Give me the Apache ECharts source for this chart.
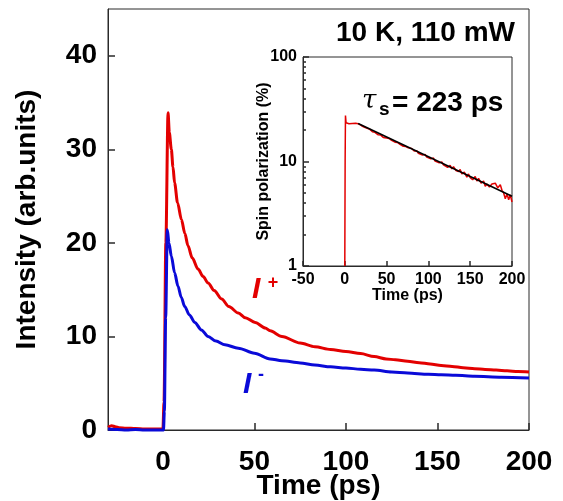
<!DOCTYPE html>
<html><head><meta charset="utf-8">
<script src="https://cdn.jsdelivr.net/npm/echarts@6/dist/echarts.min.js"></script>
<style>html,body{margin:0;padding:0;background:#fff}#c{width:563px;height:501px}</style>
</head><body><div id="c"></div>
<script>
// ---- Main panel data: intensity vs time ----
const plusTime = [-30,-28,-26,-24,-20,-15,-10,-5,-1,0,0.6,1.6,2.8,3.5,4.6,5.5,6.4,8,10.1,12,13.7,16,19.2,22,24.7,28,32.1,36,41.2,45,50.4,55.9,58.6,65,75,83,91.6,100,108,115.4,122,127,133.7,140,146,152,158,164,170.3,176,182,188,194,200];
const plusVal  = [0.3,0.45,0.35,0.25,0.2,0.15,0.1,0.1,0.1,0.1,3,20,33.9,31.8,30.0,28.1,26.4,24.3,22.5,21.0,19.7,18.4,17.2,16.4,15.7,14.9,14.0,13.2,12.5,12.0,11.5,10.9,10.6,10.0,9.3,8.9,8.6,8.4,8.17,7.85,7.6,7.5,7.35,7.2,7.05,6.9,6.8,6.65,6.56,6.48,6.4,6.32,6.25,6.2];
const minusTime = [-30,-25,-20,-15,-10,-5,-1,0.3,0.8,1.5,2.4,3.3,4.6,6.4,8.2,10,11.9,14.5,17.4,21,24.7,29,33.9,41.2,50,58.6,65,75,83,91.6,100,108,115.4,125,133.7,145,152,160,170.3,185,200];
const minusVal  = [0.1,0.05,0.0,0.05,0.0,0.0,0.0,0.0,2,12,21.4,20.0,18.6,16.8,15.4,14.2,13.2,12.3,11.5,10.7,10.0,9.5,9.1,8.75,8.2,7.6,7.4,7.17,6.95,6.75,6.62,6.5,6.4,6.2,6.1,5.95,5.9,5.85,5.75,5.65,5.57];
const mainXTicks = [0,50,100,150,200];
const mainYTicks = [0,10,20,30,40];

// ---- Inset data: spin polarization (%) vs time ----
const polTime = [0,0.4,0.8,1.5,3,5,7,9,11,13,16,18,20,23,26,28,30,33,36,38,40,43,46,48,50,53,56,58,60,63,66,68,70,73,76,78,80,83,86,88,90,93,96,98,100,103,106,108,110,113,116,118,120,123,126,128,130,133,136,138,140,143,146,148,150,153,156,158,160,163,166,168,170,173,176,178,180,183,186,188,190,192,194,196,198,200];
const polVal  = [1,10,27.5,23.5,22.6,23.0,22.7,23.1,22.8,23.2,23.0,22.6,22.0,21.4,20.9,20.1,20.3,19.3,19.0,18.6,18.0,17.9,17.0,17.4,16.8,16.6,15.9,16.1,15.3,15.2,14.6,14.9,14.0,13.9,13.5,13.2,13.3,12.6,12.7,12.0,12.3,11.5,11.7,11.0,11.3,10.6,10.8,10.1,10.4,9.7,9.9,9.3,9.6,8.8,9.2,8.5,8.9,8.2,8.0,8.4,7.6,7.9,7.1,7.6,7.0,6.7,7.2,6.5,6.9,6.2,6.5,5.8,6.1,5.7,6.1,5.9,6.2,5.6,6.0,5.3,5.0,4.4,4.9,4.3,4.8,4.1];
const fitTime = [16,200];
const fitVal  = [23.1,4.65];
const insetYMajor = [1,10,100];
const insetYMinor = [2,3,4,5,6,7,8,9,20,30,40,50,60,70,80,90];

const zip = (a,b) => a.map((t,i) => [t,b[i]]);
const FONT = '"Liberation Sans", Arial, sans-serif';
const RED = '#e30000', BLUE = '#0a0ad8', AX = '#2a2a2a';

const chart = echarts.init(document.getElementById('c'));
const lab = (size, extra) => Object.assign({fontFamily:FONT, fontWeight:'bold', fontSize:size, color:'#000'}, extra||{});
const axLine = {show:true, onZero:false, lineStyle:{color:AX, width:1}};
const tick = (len, extra) => Object.assign({show:true, inside:true, length:len, lineStyle:{color:AX, width:1.5}}, extra||{});

chart.setOption({
  animation:false,
  grid:[
    {left:108, top:9, width:421, height:421, show:true, borderColor:AX, borderWidth:1, outerBoundsMode:'none'},
    {left:303, top:57, width:209, height:209, show:true, borderColor:AX, borderWidth:1, backgroundColor:'#fff', outerBoundsMode:'none'}
  ],
  xAxis:[
    {gridIndex:0, type:'value', min:-30, max:200,
     axisLine:axLine, splitLine:{show:false},
     axisTick:tick(7,{customValues:mainXTicks}),
     axisLabel:lab(28,{customValues:mainXTicks, margin:18}),
     name:'Time (ps)', nameLocation:'middle', nameGap:42, nameMoveOverlap:false, nameTextStyle:lab(28)},
    {gridIndex:1, type:'value', min:-50, max:200, interval:50,
     axisLine:axLine, splitLine:{show:false},
     axisTick:tick(5),
     axisLabel:lab(16,{margin:6}),
     name:'Time (ps)', nameLocation:'middle', nameGap:22, nameMoveOverlap:false, nameTextStyle:lab(16)}
  ],
  yAxis:[
    {gridIndex:0, type:'value', min:0, max:45,
     axisLine:axLine, splitLine:{show:false},
     axisTick:tick(7,{customValues:mainYTicks}),
     axisLabel:lab(28,{customValues:mainYTicks, margin:11}),
     name:'Intensity (arb.units)', nameLocation:'middle', nameGap:67, nameMoveOverlap:false, nameTextStyle:lab(28)},
    {gridIndex:1, type:'log', logBase:10, min:1, max:100, position:'left',
     axisLine:axLine, splitLine:{show:false},
     axisTick:tick(6,{customValues:insetYMajor}),
     axisLabel:lab(16,{customValues:insetYMajor, margin:6}),
     name:'Spin polarization (%)', nameLocation:'middle', nameGap:31, nameMoveOverlap:false, nameTextStyle:lab(16)},
    {gridIndex:1, type:'log', logBase:10, min:1, max:100, position:'left',
     axisLine:{show:false, onZero:false}, splitLine:{show:false},
     axisTick:tick(3,{customValues:insetYMinor}),
     axisLabel:{show:false}}
  ],
  series:[
    {type:'line', xAxisIndex:0, yAxisIndex:0, data:zip(plusTime,plusVal), showSymbol:false, clip:false,
     smooth:0.3, smoothMonotone:'x', lineStyle:{color:RED, width:3}},
    {type:'line', xAxisIndex:0, yAxisIndex:0, data:zip(minusTime,minusVal), showSymbol:false, clip:false,
     smooth:0.3, smoothMonotone:'x', lineStyle:{color:BLUE, width:3}},
    {type:'line', xAxisIndex:1, yAxisIndex:1, data:zip(polTime,polVal), showSymbol:false, clip:true,
     lineStyle:{color:RED, width:1.5}},
    {type:'line', xAxisIndex:1, yAxisIndex:1, data:zip(fitTime,fitVal), showSymbol:false, clip:true,
     lineStyle:{color:'#000', width:1.5}}
  ],
  graphic:[
    {type:'text', x:515, y:33, z:20, style:{text:'10 K, 110 mW', font:'bold 28px '+FONT, fill:'#000', align:'right', verticalAlign:'middle'}},
    {type:'text', x:362, y:101, z:20, style:{text:'τ', font:'italic 26px "DejaVu Serif", serif', fill:'#000', align:'left', verticalAlign:'middle'}},
    {type:'text', x:379, y:110, z:20, style:{text:'s', font:'bold 19px '+FONT, fill:'#000', align:'left', verticalAlign:'middle'}},
    {type:'text', x:392, y:103, z:20, style:{text:'= 223 ps', font:'bold 28px '+FONT, fill:'#000', align:'left', verticalAlign:'middle'}},
    {type:'text', x:252, y:290, z:20, style:{text:'I', font:'italic bold 30px '+FONT, fill:RED, align:'left', verticalAlign:'middle'}},
    {type:'text', x:273, y:283, z:20, style:{text:'+', font:'bold 18px '+FONT, fill:RED, align:'center', verticalAlign:'middle'}},
    {type:'text', x:243, y:385, z:20, style:{text:'I', font:'italic bold 30px '+FONT, fill:BLUE, align:'left', verticalAlign:'middle'}},
    {type:'text', x:261, y:375, z:20, style:{text:'-', font:'bold 18px '+FONT, fill:BLUE, align:'center', verticalAlign:'middle'}}
  ]
});
</script>
</body></html>
